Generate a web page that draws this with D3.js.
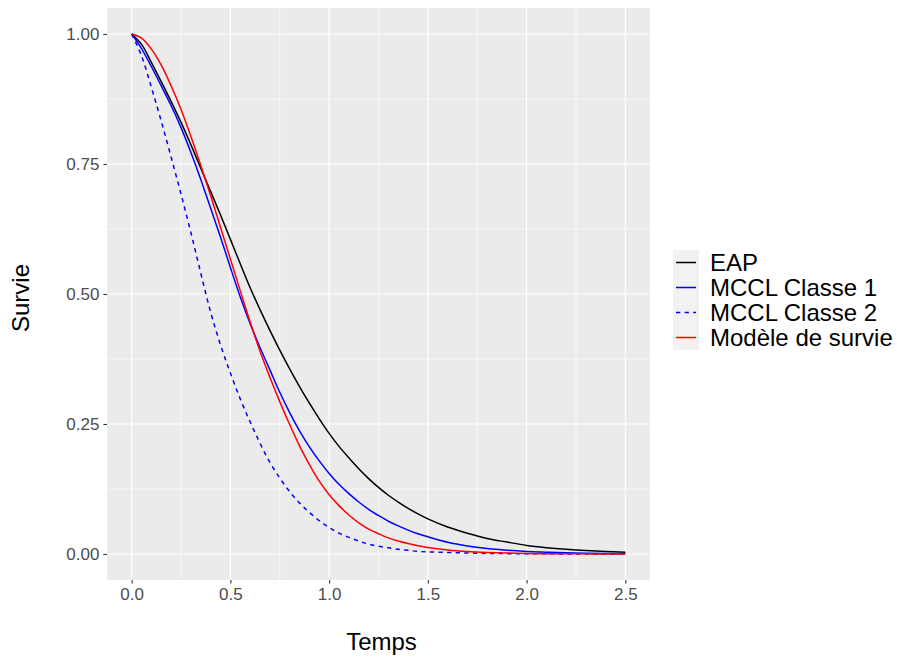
<!DOCTYPE html>
<html>
<head>
<meta charset="utf-8">
<script src="https://cdn.jsdelivr.net/npm/d3@7"></script>
<style>
  html, body { margin: 0; padding: 0; background: #ffffff; }
  svg { display: block; font-family: "Liberation Sans", Arial, Helvetica, sans-serif; }
</style>
</head>
<body>
<svg id="chart" width="897" height="657"></svg>
<script>
// ---- Data ----
const times = [0,0.05,0.1,0.15,0.2,0.25,0.3,0.35,0.4,0.45,0.5,0.55,0.6,0.65,0.7,0.75,0.8,0.85,0.9,0.95,1.0,1.05,1.1,1.15,1.2,1.25,1.3,1.35,1.4,1.45,1.5,1.6,1.7,1.8,1.9,2.0,2.1,2.2,2.3,2.4,2.5];

const eap = [1.000,0.980,0.945,0.908,0.870,0.830,0.787,0.742,0.697,0.652,0.605,0.558,0.512,0.470,0.430,0.392,0.356,0.322,0.290,0.260,0.232,0.207,0.185,0.164,0.145,0.128,0.113,0.0998,0.0878,0.0771,0.0676,0.052,0.040,0.030,0.023,0.0165,0.0122,0.009,0.0066,0.0049,0.0036];

const mcclClasse1 = [1.000,0.972,0.937,0.900,0.862,0.820,0.772,0.720,0.665,0.609,0.551,0.494,0.443,0.397,0.354,0.311,0.272,0.237,0.206,0.179,0.155,0.134,0.116,0.100,0.086,0.074,0.063,0.054,0.046,0.039,0.033,0.0226,0.0155,0.0106,0.0073,0.005,0.0034,0.0023,0.0016,0.0011,0.0007];

const mcclClasse2 = [1.000,0.958,0.897,0.832,0.763,0.692,0.618,0.540,0.465,0.402,0.348,0.298,0.254,0.213,0.176,0.146,0.120,0.098,0.080,0.064,0.051,0.040,0.032,0.025,0.019,0.015,0.012,0.009,0.007,0.005,0.004,0.003,0.002,0.001,0.0007,0.0004,0.0003,0.0002,0.0001,0.0001,0.0];

const modeleSurvie = [1.000,0.992,0.971,0.940,0.900,0.855,0.803,0.747,0.689,0.628,0.567,0.506,0.446,0.390,0.340,0.293,0.249,0.208,0.172,0.140,0.114,0.093,0.075,0.060,0.048,0.039,0.031,0.025,0.020,0.016,0.0126,0.0078,0.0048,0.003,0.0018,0.0011,0.0007,0.0004,0.00025,0.00015,0.0001];

const seriesNames = ["EAP", "MCCL Classe 1", "MCCL Classe 2", "Modèle de survie"];
const seriesColors = ["#000000", "#0000FF", "#0000FF", "#FF0000"];
const seriesDash = [null, null, "4.3,4.3", null];
const seriesValues = [eap, mcclClasse1, mcclClasse2, modeleSurvie];

const xTicks = [0, 0.5, 1.0, 1.5, 2.0, 2.5];
const xTickLabels = ["0.0", "0.5", "1.0", "1.5", "2.0", "2.5"];
const xMinor = [0.25, 0.75, 1.25, 1.75, 2.25];
const yTicks = [0, 0.25, 0.5, 0.75, 1.0];
const yTickLabels = ["0.00", "0.25", "0.50", "0.75", "1.00"];
const yMinor = [0.125, 0.375, 0.625, 0.875];

const xTitle = "Temps";
const yTitle = "Survie";

// ---- Layout ----
const panel = { left: 107, right: 650, top: 8, bottom: 580 };

const svg = d3.select("#chart");

const x = d3.scaleLinear().domain([-0.125, 2.625]).range([panel.left, panel.right]);
const y = d3.scaleLinear().domain([-0.05, 1.05]).range([panel.bottom, panel.top]);

// panel background
svg.append("rect")
  .attr("x", panel.left).attr("y", panel.top)
  .attr("width", panel.right - panel.left)
  .attr("height", panel.bottom - panel.top)
  .attr("fill", "#EBEBEB");

const grid = svg.append("g");
grid.selectAll("line.xminor").data(xMinor).enter().append("line")
  .attr("x1", d => x(d)).attr("x2", d => x(d))
  .attr("y1", panel.top).attr("y2", panel.bottom)
  .attr("stroke", "#FFFFFF").attr("stroke-width", 0.6);
grid.selectAll("line.yminor").data(yMinor).enter().append("line")
  .attr("y1", d => y(d)).attr("y2", d => y(d))
  .attr("x1", panel.left).attr("x2", panel.right)
  .attr("stroke", "#FFFFFF").attr("stroke-width", 0.6);
grid.selectAll("line.xmajor").data(xTicks).enter().append("line")
  .attr("x1", d => x(d)).attr("x2", d => x(d))
  .attr("y1", panel.top).attr("y2", panel.bottom)
  .attr("stroke", "#FFFFFF").attr("stroke-width", 1.2);
grid.selectAll("line.ymajor").data(yTicks).enter().append("line")
  .attr("y1", d => y(d)).attr("y2", d => y(d))
  .attr("x1", panel.left).attr("x2", panel.right)
  .attr("stroke", "#FFFFFF").attr("stroke-width", 1.2);

// axes
const xAxis = d3.axisBottom(x).tickValues(xTicks)
  .tickFormat((d, i) => xTickLabels[i]).tickSize(3.6).tickPadding(4);
const gx = svg.append("g").attr("transform", `translate(0,${panel.bottom})`).call(xAxis);
gx.select(".domain").remove();
gx.selectAll(".tick line").attr("stroke", "#333333").attr("stroke-width", 1.1);
gx.selectAll(".tick text").attr("fill", "#4D4D4D").style("font-size", "17px")
  .attr("dy", "0.71em");

const yAxis = d3.axisLeft(y).tickValues(yTicks)
  .tickFormat((d, i) => yTickLabels[i]).tickSize(3.6).tickPadding(4);
const gy = svg.append("g").attr("transform", `translate(${panel.left},0)`).call(yAxis);
gy.select(".domain").remove();
gy.selectAll(".tick line").attr("stroke", "#333333").attr("stroke-width", 1.1);
gy.selectAll(".tick text").attr("fill", "#4D4D4D").style("font-size", "17px");

// curves
const line = d3.line()
  .x(d => x(d[0]))
  .y(d => y(d[1]))
  .curve(d3.curveCatmullRom.alpha(0.5));

const curves = svg.append("g");
seriesValues.forEach((vals, i) => {
  const pts = times.map((t, j) => [t, vals[j]]);
  curves.append("path")
    .attr("d", line(pts))
    .attr("fill", "none")
    .attr("stroke", seriesColors[i])
    .attr("stroke-width", 1.5)
    .attr("stroke-dasharray", seriesDash[i]);
});

// axis titles
svg.append("text")
  .attr("x", (panel.left + panel.right) / 2 + 3)
  .attr("y", 650)
  .attr("text-anchor", "middle")
  .attr("fill", "#000000")
  .style("font-size", "24px")
  .text(xTitle);

svg.append("text")
  .attr("transform", `translate(29,${(panel.top + panel.bottom) / 2 + 4}) rotate(-90)`)
  .attr("text-anchor", "middle")
  .attr("fill", "#000000")
  .style("font-size", "24px")
  .text(yTitle);

// legend
const legend = svg.append("g").attr("transform", "translate(673,250)");
const keyW = 26, keyH = 25;
seriesNames.forEach((name, i) => {
  const g = legend.append("g").attr("transform", `translate(0,${i * keyH})`);
  g.append("rect")
    .attr("x", 0).attr("y", 0).attr("width", keyW).attr("height", keyH)
    .attr("fill", "#F2F2F2");
  g.append("line")
    .attr("x1", 3).attr("x2", keyW - 3)
    .attr("y1", keyH / 2).attr("y2", keyH / 2)
    .attr("stroke", seriesColors[i])
    .attr("stroke-width", 1.5)
    .attr("stroke-dasharray", seriesDash[i]);
  g.append("text")
    .attr("x", 37)
    .attr("y", keyH / 2 + 8.5)
    .attr("fill", "#000000")
    .style("font-size", "24px")
    .text(name);
});
</script>
</body>
</html>
